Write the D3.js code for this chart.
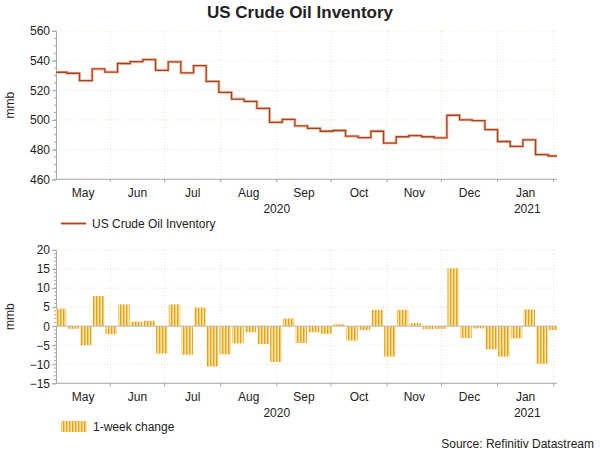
<!DOCTYPE html>
<html>
<head>
<meta charset="utf-8">
<script src="https://cdn.jsdelivr.net/npm/d3@7"></script>
<style>
  body { margin: 0; background: #fff; }
  text { font-family: "Liberation Sans", Arial, sans-serif; fill: #222; }
</style>
</head>
<body>
<svg id="chart" width="600" height="453"></svg>
<script>
// week-ending dates (Fridays)
const weeks = [
  "2020-05-01","2020-05-08","2020-05-15","2020-05-22","2020-05-29",
  "2020-06-05","2020-06-12","2020-06-19","2020-06-26","2020-07-03",
  "2020-07-10","2020-07-17","2020-07-24","2020-07-31","2020-08-07",
  "2020-08-14","2020-08-21","2020-08-28","2020-09-04","2020-09-11",
  "2020-09-18","2020-09-25","2020-10-02","2020-10-09","2020-10-16",
  "2020-10-23","2020-10-30","2020-11-06","2020-11-13","2020-11-20",
  "2020-11-27","2020-12-04","2020-12-11","2020-12-18","2020-12-25",
  "2021-01-01","2021-01-08","2021-01-15","2021-01-22","2021-01-29"
];
// inventory level, mmb
const inventory = [
  532.2, 531.5, 526.5, 534.4, 532.3, 538.1, 539.3, 540.7, 533.5, 539.2,
  531.7, 536.6, 526.0, 518.6, 514.1, 512.5, 507.8, 498.4, 500.4, 496.0,
  494.4, 492.4, 492.9, 489.1, 488.1, 492.4, 484.4, 488.7, 489.5, 488.7,
  488.0, 503.2, 500.1, 499.5, 493.5, 485.5, 482.2, 486.6, 476.7, 475.7
];
// 1-week change, mmb
const weeklyChange = [
  4.6, -0.7, -5.0, 7.9, -2.1, 5.7, 1.2, 1.4, -7.2, 5.7,
  -7.5, 4.9, -10.6, -7.4, -4.5, -1.6, -4.7, -9.4, 2.0, -4.4,
  -1.6, -2.0, 0.5, -3.8, -1.0, 4.3, -8.0, 4.3, 0.8, -0.8,
  -0.7, 15.2, -3.1, -0.6, -6.1, -8.0, -3.2, 4.4, -9.9, -1.0
];
const monthLabels = ["May","Jun","Jul","Aug","Sep","Oct","Nov","Dec","Jan"];
const yearLabels = ["2020","2021"];
const topTicks = [460, 480, 500, 520, 540, 560];
const bottomTicks = [-15, -10, -5, 0, 5, 10, 15, 20];

const svg = d3.select("#chart");
const parse = d3.timeParse("%Y-%m-%d");
const dates = weeks.map(parse);

const left = 56, right = 557;
const axisColor = "#a3a9a3";
const gridColor = "#ebe3c0";
const lineColor = "#a9421c", haloColor = "#ecc3ae";

// time scale: May 1 2020 -> 54.2, 1.81 px per day
const x = d3.scaleTime()
  .domain([new Date(2020, 4, 1), new Date(2021, 1, 5)])
  .range([54.2, 54.2 + 280 * 1.8096]);

const monthStarts = d3.timeMonth.range(new Date(2020, 5, 1), new Date(2021, 1, 2));
const labelEdges = [left].concat(monthStarts.map(d => x(d)));

const defs = svg.append("defs");
const pat = defs.append("pattern")
  .attr("id", "stripes")
  .attr("patternUnits", "userSpaceOnUse")
  .attr("width", 3).attr("height", 4);
pat.append("rect").attr("width", 3).attr("height", 4).attr("fill", "#f9e6aa");
pat.append("rect").attr("width", 1.4).attr("height", 4).attr("fill", "#e6a21a");

function panel(top, bottom, yDomain, ticks, minorStep, id) {
  const y = d3.scaleLinear().domain(yDomain).range([bottom, top]);
  const g = svg.append("g");

  defs.append("clipPath").attr("id", id)
    .append("rect").attr("x", left).attr("y", top - 2)
    .attr("width", right - left).attr("height", bottom - top + 4);

  // gridlines
  g.append("g").selectAll("line").data(ticks.filter(t => t !== 0 && t !== yDomain[0]))
    .join("line")
    .attr("x1", left).attr("x2", right)
    .attr("y1", d => y(d)).attr("y2", d => y(d))
    .attr("stroke", gridColor).attr("stroke-dasharray", "1,2");
  g.append("g").selectAll("line").data(monthStarts)
    .join("line")
    .attr("x1", d => x(d)).attr("x2", d => x(d))
    .attr("y1", top).attr("y2", bottom)
    .attr("stroke", gridColor).attr("stroke-dasharray", "1,2");

  // y axis
  const yAxis = g.append("g").attr("transform", `translate(${left},0)`)
    .call(d3.axisLeft(y).tickValues(ticks).tickSize(4).tickFormat(d3.format("d")));
  yAxis.select(".domain").attr("stroke", axisColor);
  yAxis.selectAll(".tick line").attr("stroke", axisColor);
  yAxis.selectAll(".tick text").attr("font-size", 12).attr("fill", "#222")
    .attr("font-family", "Liberation Sans, Arial, sans-serif").attr("x", -6);
  g.append("g").selectAll("line").data(d3.range(yDomain[0], yDomain[1] + 0.01, minorStep))
    .join("line")
    .attr("x1", left - 2).attr("x2", left)
    .attr("y1", d => y(d)).attr("y2", d => y(d))
    .attr("stroke", axisColor);

  // x axis
  g.append("line").attr("x1", left).attr("x2", right)
    .attr("y1", bottom).attr("y2", bottom).attr("stroke", axisColor);
  g.append("g").selectAll("line").data(monthStarts)
    .join("line")
    .attr("x1", d => x(d)).attr("x2", d => x(d))
    .attr("y1", bottom).attr("y2", bottom + 3)
    .attr("stroke", axisColor);

  g.append("g").selectAll("text").data(monthLabels)
    .join("text")
    .attr("x", (d, i) => (labelEdges[i] + labelEdges[i + 1]) / 2)
    .attr("y", bottom + 18)
    .attr("text-anchor", "middle").attr("font-size", 12)
    .text(d => d);

  const janX = x(new Date(2021, 0, 1));
  g.append("g").selectAll("text").data(yearLabels)
    .join("text")
    .attr("x", (d, i) => i === 0 ? (left + janX) / 2 : (janX + right) / 2)
    .attr("y", bottom + 34)
    .attr("text-anchor", "middle").attr("font-size", 12)
    .text(d => d);

  svg.append("text")
    .attr("transform", `translate(14,${(top + bottom) / 2}) rotate(-90)`)
    .attr("text-anchor", "middle").attr("font-size", 12)
    .text("mmb");

  return { y, g };
}

// title
svg.append("text")
  .attr("x", 300).attr("y", 18)
  .attr("text-anchor", "middle")
  .attr("font-size", 17).attr("font-weight", "bold")
  .text("US Crude Oil Inventory");

// top panel: inventory level
const p1 = panel(31, 179.3, [460, 560], topTicks, 5, "clipTop");
const stepData = dates.map((d, i) => [d, inventory[i]]);
stepData.push([d3.timeDay.offset(dates[dates.length - 1], 7), inventory[inventory.length - 1]]);
const line = d3.line()
  .x(d => x(d[0])).y(d => p1.y(d[1]))
  .curve(d3.curveStepAfter);
const lineG = svg.append("g").attr("clip-path", "url(#clipTop)");
lineG.append("path").datum(stepData)
  .attr("d", line).attr("fill", "none")
  .attr("stroke", haloColor).attr("stroke-width", 3);
lineG.append("path").datum(stepData)
  .attr("d", line).attr("fill", "none")
  .attr("stroke", lineColor).attr("stroke-width", 1.3);

// legend top
svg.append("line").attr("x1", 61).attr("x2", 86).attr("y1", 223.5).attr("y2", 223.5)
  .attr("stroke", haloColor).attr("stroke-width", 3);
svg.append("line").attr("x1", 61).attr("x2", 86).attr("y1", 223.5).attr("y2", 223.5)
  .attr("stroke", lineColor).attr("stroke-width", 1.3);
svg.append("text").attr("x", 92).attr("y", 227.5).attr("font-size", 12)
  .text("US Crude Oil Inventory");

// bottom panel: 1-week change
const p2 = panel(250, 383.3, [-15, 20], bottomTicks, 1, "clipBottom");
const barG = svg.append("g").attr("clip-path", "url(#clipBottom)");
barG.selectAll("rect").data(dates)
  .join("rect")
  .attr("x", d => x(d) + 0.6)
  .attr("width", d => x(d3.timeDay.offset(d, 7)) - x(d) - 1.2)
  .attr("y", (d, i) => p2.y(Math.max(0, weeklyChange[i])))
  .attr("height", (d, i) => Math.abs(p2.y(weeklyChange[i]) - p2.y(0)))
  .attr("fill", "url(#stripes)");
svg.append("line").attr("x1", left).attr("x2", right)
  .attr("y1", p2.y(0)).attr("y2", p2.y(0))
  .attr("stroke", "#b8b8b8").attr("stroke-width", 1);

// legend bottom
svg.append("rect").attr("x", 61).attr("y", 421).attr("width", 26).attr("height", 11)
  .attr("fill", "url(#stripes)");
svg.append("text").attr("x", 93).attr("y", 431).attr("font-size", 12)
  .text("1-week change");

svg.append("text").attr("x", 594).attr("y", 448)
  .attr("text-anchor", "end").attr("font-size", 12)
  .text("Source: Refinitiv Datastream");
</script>
</body>
</html>
